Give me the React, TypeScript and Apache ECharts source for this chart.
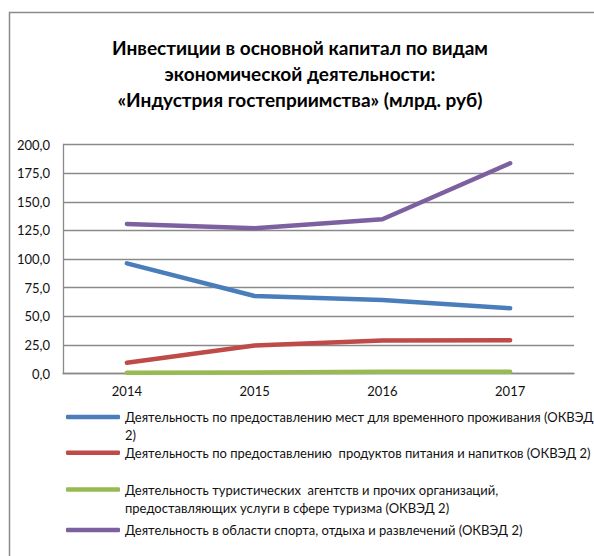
import React, { useEffect, useRef } from "react";
import * as echarts from "echarts";

const years = ["2014", "2015", "2016", "2017"];
const seriesNames = [
  "Деятельность по предоставлению мест для временного проживания (ОКВЭД 2)",
  "Деятельность по предоставлению  продуктов питания и напитков (ОКВЭД 2)",
  "Деятельность туристических  агентств и прочих организаций, предоставляющих услуги в сфере туризма (ОКВЭД 2)",
  "Деятельность в области спорта, отдыха и развлечений (ОКВЭД 2)",
];
const legendLabels = [
  "Деятельность по предоставлению мест для временного проживания (ОКВЭД\n2)",
  "Деятельность по предоставлению  продуктов питания и напитков (ОКВЭД 2)",
  "Деятельность туристических  агентств и прочих организаций,\nпредоставляющих услуги в сфере туризма (ОКВЭД 2)",
  "Деятельность в области спорта, отдыха и развлечений (ОКВЭД 2)",
];
const accommodation = [96.2, 67.7, 64.2, 57.0];
const food = [9.4, 24.5, 28.8, 29.0];
const tourism = [0.6, 0.8, 1.6, 1.5];
const sport = [130.6, 126.8, 134.7, 183.6];
const seriesValues = [accommodation, food, tourism, sport];
const colors = ["#4A7EBB", "#BE4B48", "#98B954", "#7D60A0"];
const titleText =
  "Инвестиции в основной капитал по видам\nэкономической деятельности:\n«Индустрия гостеприимства» (млрд. руб)";

const FONT = "Lato, 'Noto Sans', sans-serif";

export default function App() {
  const ref = useRef<HTMLDivElement>(null);
  useEffect(() => {
    if (!ref.current) return;
    const chart = echarts.init(ref.current, undefined, { renderer: "svg" });
    const legendTops = [390, 443.7, 462.5, 521];
    chart.setOption({
      animation: false,
      backgroundColor: "#ffffff",
      textStyle: { fontFamily: FONT },
      title: {
        text: titleText,
        left: 300,
        textAlign: "center",
        top: 34,
        padding: 0,
        textStyle: {
          fontFamily: FONT,
          fontSize: 19,
          fontWeight: "bold",
          color: "#000",
          lineHeight: 26,
        },
      },
      graphic: [
        {
          type: "rect",
          shape: { x: 9.5, y: 12.5, width: 620, height: 600 },
          style: { fill: "none", stroke: "#8a8a8a", lineWidth: 1.5 },
          silent: true,
        },
      ],
      grid: { left: 63, right: 20, top: 144.5, bottom: 556 - 373.5 },
      xAxis: {
        type: "category",
        data: years,
        boundaryGap: true,
        axisLine: { show: true, lineStyle: { color: "#8a8a8a", width: 1.3 } },
        axisTick: { show: false },
        axisLabel: { color: "#111", fontSize: 13, margin: 11, fontFamily: FONT },
      },
      yAxis: {
        type: "value",
        min: 0,
        max: 200,
        interval: 25,
        axisLine: { show: true, lineStyle: { color: "#8a8a8a", width: 1.3 } },
        axisTick: { show: false },
        splitLine: { lineStyle: { color: "#8a8a8a", width: 1.3 } },
        axisLabel: {
          color: "#111",
          fontSize: 13,
          margin: 13,
          fontFamily: FONT,
          formatter: (v: number) => v.toFixed(1).replace(".", ","),
        },
      },
      legend: seriesNames.map((name, i) => ({
        data: [name],
        left: 66,
        top: legendTops[i],
        padding: 0,
        icon: "roundRect",
        itemWidth: 54,
        itemHeight: 4.5,
        selectedMode: false,
        formatter: () =>
          legendLabels[i].indexOf("\n") >= 0 ? " \n" + legendLabels[i] : legendLabels[i],
        textStyle: {
          fontFamily: FONT,
          fontSize: 13,
          color: "#111",
          lineHeight: 18,
        },
      })),
      series: seriesNames.map((name, i) => ({
        name,
        type: "line",
        data: seriesValues[i],
        symbol: "none",
        color: colors[i],
        lineStyle: { width: 4.5, color: colors[i], cap: "round", join: "round" },
        itemStyle: { color: colors[i] },
      })),
    });
    return () => chart.dispose();
  }, []);
  return (
    <div
      ref={ref}
      style={{ position: "fixed", left: 0, top: 0, width: 594, height: 556 }}
    />
  );
}
